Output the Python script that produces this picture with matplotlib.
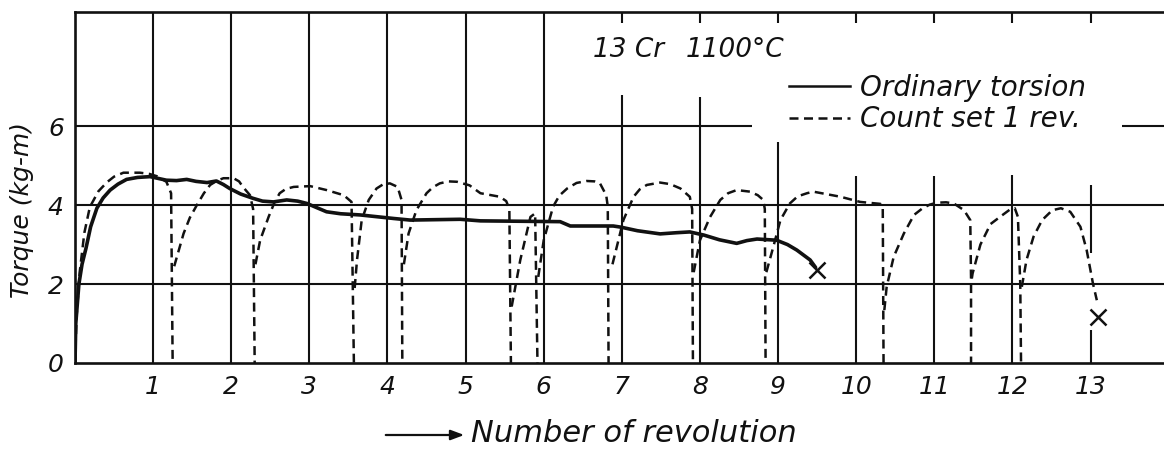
import matplotlib
matplotlib.use("Agg")
import matplotlib.pyplot as plt
from matplotlib.lines import Line2D
from matplotlib.patches import FancyArrowPatch

# ---------------- data ----------------
x_ticks = [1, 2, 3, 4, 5, 6, 7, 8, 9, 10, 11, 12, 13]
x_tick_labels = ["1", "2", "3", "4", "5", "6", "7", "8", "9", "10", "11", "12", "13"]
y_ticks = [0, 2, 4, 6]
y_tick_labels = ["0", "2", "4", "6"]

# Ordinary torsion (solid)
ordinary_x = [0.0, 0.01, 0.05, 0.09, 0.14, 0.20, 0.28, 0.36, 0.45, 0.55, 0.66, 0.80, 0.96,
              1.17, 1.30, 1.43, 1.55, 1.69, 1.81, 1.90, 1.98, 2.12, 2.28, 2.40, 2.54,
              2.71, 2.85, 2.97, 3.10, 3.22, 3.40, 3.65, 4.08, 4.29, 4.93, 5.19, 6.21,
              6.34, 6.89, 6.99, 7.20, 7.49, 7.70, 7.87, 8.05, 8.25, 8.47, 8.60, 8.73,
              8.98, 9.12, 9.24, 9.41, 9.48]
ordinary_y = [0.0, 1.0, 2.0, 2.50, 2.90, 3.45, 3.92, 4.18, 4.38, 4.53, 4.65, 4.70, 4.72,
              4.63, 4.62, 4.65, 4.60, 4.57, 4.61, 4.52, 4.42, 4.28, 4.17, 4.10, 4.08,
              4.13, 4.10, 4.04, 3.93, 3.83, 3.78, 3.75, 3.66, 3.62, 3.64, 3.60, 3.58,
              3.47, 3.47, 3.44, 3.35, 3.27, 3.30, 3.32, 3.24, 3.12, 3.03, 3.10, 3.14,
              3.11, 3.00, 2.86, 2.61, 2.42]
ordinary_break = (9.50, 2.35)

# Count set 1 rev. (dashed), one list per arc
count_x = [
    [0.0, 0.02, 0.06, 0.12, 0.19, 0.30, 0.41, 0.50, 0.62, 0.83, 0.95, 1.05, 1.17, 1.23, 1.25],
    [1.27, 1.39, 1.47, 1.56, 1.65, 1.73, 1.82, 1.90, 2.03, 2.10, 2.15, 2.24, 2.28, 2.30],
    [2.31, 2.37, 2.48, 2.55, 2.62, 2.70, 2.80, 3.01, 3.22, 3.44, 3.54, 3.57],
    [3.58, 3.61, 3.67, 3.76, 3.86, 3.94, 4.03, 4.13, 4.18, 4.19],
    [4.21, 4.27, 4.37, 4.50, 4.58, 4.67, 4.78, 4.89, 5.05, 5.19, 5.44, 5.52, 5.56, 5.58],
    [5.59, 5.70, 5.83, 5.89, 5.92],
    [5.93, 6.00, 6.12, 6.20, 6.30, 6.42, 6.55, 6.65, 6.72, 6.80, 6.82, 6.83],
    [6.88, 7.02, 7.15, 7.23, 7.32, 7.49, 7.62, 7.75, 7.87, 7.90, 7.91],
    [7.92, 8.00, 8.13, 8.26, 8.36, 8.47, 8.64, 8.74, 8.81, 8.83, 8.84],
    [8.85, 8.94, 9.03, 9.15, 9.25, 9.37, 9.45, 9.80, 10.05, 10.31, 10.34, 10.35],
    [10.36, 10.39, 10.48, 10.61, 10.74, 10.85, 10.94, 11.03, 11.15, 11.25, 11.38, 11.46, 11.47, 11.47],
    [11.48, 11.49, 11.59, 11.72, 11.84, 11.97, 12.03, 12.07, 12.10, 12.11],
    [12.12, 12.18, 12.27, 12.38, 12.51, 12.62, 12.74, 12.87, 12.95, 13.03, 13.08],
]
count_y = [
    [0.0, 1.17, 2.30, 3.30, 3.95, 4.35, 4.58, 4.72, 4.82, 4.82, 4.79, 4.73, 4.59, 4.30, 0.0],
    [2.45, 3.28, 3.68, 4.00, 4.30, 4.51, 4.62, 4.68, 4.68, 4.60, 4.46, 4.25, 3.90, 0.0],
    [2.50, 3.11, 3.71, 4.05, 4.30, 4.41, 4.46, 4.48, 4.38, 4.25, 4.08, 0.0],
    [1.90, 2.61, 3.62, 4.13, 4.42, 4.52, 4.55, 4.46, 4.13, 0.0],
    [2.50, 3.28, 3.87, 4.30, 4.45, 4.55, 4.60, 4.59, 4.50, 4.30, 4.21, 4.10, 3.90, 0.0],
    [1.43, 2.61, 3.70, 3.79, 0.0],
    [2.18, 3.11, 3.96, 4.24, 4.42, 4.56, 4.61, 4.60, 4.55, 4.25, 3.96, 0.0],
    [2.50, 3.62, 4.21, 4.40, 4.51, 4.57, 4.53, 4.42, 4.21, 3.90, 0.0],
    [2.30, 3.11, 3.70, 4.13, 4.30, 4.38, 4.34, 4.25, 4.13, 3.90, 0.0],
    [2.30, 2.95, 3.62, 4.04, 4.22, 4.30, 4.34, 4.21, 4.08, 4.03, 3.90, 0.0],
    [1.34, 1.93, 2.69, 3.28, 3.75, 3.92, 4.01, 4.06, 4.07, 4.04, 3.87, 3.62, 2.14, 0.0],
    [2.14, 2.27, 3.00, 3.52, 3.70, 3.89, 3.92, 3.70, 2.00, 0.0],
    [1.93, 2.61, 3.20, 3.62, 3.87, 3.92, 3.83, 3.45, 2.86, 2.02, 1.59],
]
count_break = (13.10, 1.17)

title_material = "13 Cr"
title_temp = "1100\u00b0C"
legend_labels = ["Ordinary torsion", "Count set 1 rev."]
x_label = "Number of revolution"
y_label = "Torque (kg-m)"

# ---------------- layout ----------------
W, H = 1164, 450
XMAX, YMAX = 13.94, 8.89
fig = plt.figure(figsize=(W / 100, H / 100), dpi=100)
fig.patch.set_facecolor("white")
ax = fig.add_axes([75 / W, 87 / H, 1 - 75 / W, 351 / H])
ax.set_xlim(0, XMAX)
ax.set_ylim(0, YMAX)

ink = "#111111"
FONT = dict(family="DejaVu Sans", style="italic", color=ink)

for side in ["left", "bottom", "top"]:
    ax.spines[side].set_linewidth(1.9)
    ax.spines[side].set_color(ink)
ax.spines["right"].set_visible(False)

ax.set_xticks(x_ticks)
ax.set_xticklabels(x_tick_labels, fontsize=18, **FONT)
ax.set_yticks(y_ticks)
ax.set_yticklabels(y_tick_labels, fontsize=18, **FONT)
ax.tick_params(axis="x", length=0, pad=9)
ax.tick_params(axis="y", length=0, pad=8)

# grid (hand-drawn: some lines interrupted by annotations)
grid_kw = dict(color=ink, lw=1.5, zorder=1)
ax.hlines([2, 4], 0, XMAX, **grid_kw)
ax.hlines([6, 6], [0, 13.4], [8.67, XMAX], **grid_kw)
v_top = [YMAX] * 6 + [6.78, 6.73, 5.6, 4.73, 4.73, 4.77]
ax.vlines(x_ticks[:12], 0, v_top, **grid_kw)
ax.vlines([13, 13], [0, 2.78], [0.84, 4.5], **grid_kw)
ax.vlines(x_ticks[6:], YMAX - 0.27, YMAX, **grid_kw)

# curves
ax.plot(ordinary_x, ordinary_y, color=ink, lw=2.6, solid_capstyle="round",
        solid_joinstyle="round", zorder=3)
ax.plot(*ordinary_break, marker="x", ms=12, mew=1.8, color=ink, zorder=4)
for cx, cy in zip(count_x, count_y):
    ax.plot(cx, cy, color=ink, lw=1.8, dashes=(3.6, 2.2), dash_joinstyle="round", zorder=2)
ax.plot(*count_break, marker="x", ms=12, mew=1.8, color=ink, zorder=4)

# annotations
def fx(px):
    return px / W

def fy(py):
    return 1 - py / H

fig.text(fx(593), fy(50), title_material, fontsize=19, va="center", ha="left", **FONT)
fig.text(fx(686), fy(50), title_temp, fontsize=19, va="center", ha="left", **FONT)

handles = [Line2D([], [], color=ink, lw=1.8),
           Line2D([], [], color=ink, lw=1.8, dashes=(3.6, 2.2))]
leg = ax.legend(handles, legend_labels, loc="upper left",
                bbox_to_anchor=(fx(789), fy(74)), bbox_transform=fig.transFigure,
                frameon=False, handlelength=2.2, handletextpad=0.35,
                labelspacing=0.12, borderpad=0, borderaxespad=0,
                prop=dict(family="DejaVu Sans", style="italic", size=20))
for t in leg.get_texts():
    t.set_color(ink)

fig.text(fx(22), fy(210), y_label, rotation=90, fontsize=18, va="center", ha="center", **FONT)
fig.text(fx(471), fy(433), x_label, fontsize=22, va="center", ha="left", **FONT)
fig.patches.append(FancyArrowPatch(
    (fx(383), fy(435)), (fx(467), fy(435)), transform=fig.transFigure,
    arrowstyle="-|>,head_length=8,head_width=3", color=ink, lw=1.6,
    mutation_scale=1))

fig.savefig("out.png", dpi=100, facecolor="white")
